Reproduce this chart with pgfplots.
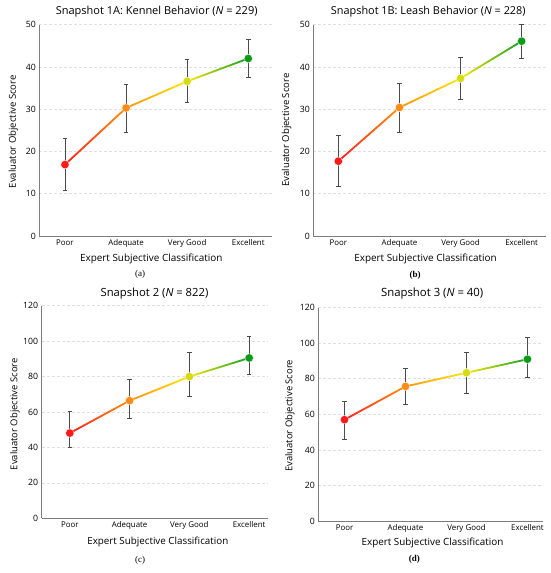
\documentclass[border=0pt]{standalone}
\usepackage{fontspec}
\setmainfont{Open Sans}
\newfontfamily\seriff{Liberation Serif}
\usepackage{graphicx}
\usepackage{pgfplots}
\usepackage{pgfplotstable}
\usetikzlibrary{decorations.markings}
\pgfplotsset{compat=1.18}

\definecolor{ebar}{RGB}{75,75,75}
\definecolor{axgray}{RGB}{125,125,125}

\pgfplotstableread{
x y ep em
0 16.9 6.2 6.2
1 30.3 5.6 5.8
2 36.6 5.1 5.1
3 42.0 4.4 4.4
}\tA
\pgfplotstableread{
x y ep em
0 17.7 6.0 6.0
1 30.4 5.8 5.8
2 37.3 5.0 5.0
3 46.1 4.0 4.0
}\tB
\pgfplotstableread{
x y ep em
0 48.1 12.0 8.1
1 66.4 12.1 10.0
2 80.0 13.7 11.3
3 90.5 12.0 9.4
}\tC
\pgfplotstableread{
x y ep em
0 57.0 10.3 11.2
1 75.7 10.3 10.3
2 83.4 11.6 11.4
3 91.0 12.4 10.4
}\tD

% line colour maps: stops at the arc-length fractions of the four categories
\pgfplotsset{
  colormap={traffA}{rgb255(0cm)=(255,20,20) rgb255(3.85cm)=(255,140,0) rgb255(6.97cm)=(255,232,0) rgb255(10cm)=(0,158,20)},
  colormap={traffB}{rgb255(0cm)=(255,20,20) rgb255(3.69cm)=(255,140,0) rgb255(6.76cm)=(255,232,0) rgb255(10cm)=(0,158,20)},
  colormap={traffC}{rgb255(0cm)=(255,20,20) rgb255(3.49cm)=(255,140,0) rgb255(6.79cm)=(255,232,0) rgb255(10cm)=(0,158,20)},
  colormap={traffD}{rgb255(0cm)=(255,20,20) rgb255(3.57cm)=(255,140,0) rgb255(6.79cm)=(255,232,0) rgb255(10cm)=(0,158,20)},
  colormap={marks}{rgb255=(255,25,25) rgb255=(255,140,20) rgb255=(214,220,16) rgb255=(12,155,24)},
  snap/.style={
    scale only axis, anchor=south west,
    axis x line*=bottom, axis y line*=left,
    axis line style={axgray, line width=0.9pt},
    tick style={draw=none},
    ymajorgrids, grid style={densely dashed, gray!25, line width=0.6pt},
    xtick={0,1,2,3}, xticklabels={Poor,Adequate,Very Good,Excellent},
    xticklabel style={font=\fontsize{7.9}{8}\selectfont},
    yticklabel style={font=\fontsize{8.7}{10}\selectfont},
    /pgf/number format/assume math mode=true,
    ymin=0, clip=false,
    point meta min=0, point meta max=3,
  },
}

\newcommand{\drawseries}[2]{%
  \addplot[only marks, mark=none, forget plot,
    error bars/.cd, y dir=both, y explicit,
    error bar style={ebar, line width=0.9pt},
    error mark options={ebar, rotate=90, mark size=2.3pt, line width=0.9pt}]
    table[x=x, y=y, y error plus=ep, y error minus=em]{#1};
  \addplot[draw=none, mark=none, forget plot, colormap name=#2,
    decoration={markings, mark=between positions 0 and 1 step 0.4pt with {%
      \pgfmathtruncatemacro\cpos{1000*(\pgfkeysvalueof{/pgf/decoration/mark info/distance from start}/\pgfdecoratedpathlength)}%
      \pgfplotscolormapdefinemappedcolor{\cpos}%
      \draw[mapped color, line width=1.6pt, line cap=butt] (-0.3pt,0pt) -- (0.3pt,0pt);}},
    postaction={decorate}]
    table[x=x, y=y]{#1};
  \addplot[scatter, only marks, mark=*, mark size=4.2pt, colormap name=marks, point meta=x,
    scatter/use mapped color={draw=white, fill=mapped color, line width=0.3pt}]
    table[x=x, y=y]{#1};
}

\newcommand{\fitw}[2]{\resizebox{#1}{!}{#2}}

\begin{document}
\begin{tikzpicture}
\useasboundingbox (0,0) rectangle (550pt,573pt);

\begin{axis}[snap, at={(39.3pt,337pt)}, width=232.8pt, height=211.3pt,
  xmin=-0.42, xmax=3.39, ymax=50, ytick={0,10,20,30,40,50}]
\drawseries{\tA}{traffA}
\end{axis}

\begin{axis}[snap, at={(313.3pt,337pt)}, width=232.2pt, height=211.3pt,
  xmin=-0.41, xmax=3.39, ymax=50, ytick={0,10,20,30,40,50}]
\drawseries{\tB}{traffB}
\end{axis}

\begin{axis}[snap, at={(41.7pt,54.7pt)}, width=226.6pt, height=212.6pt,
  xmin=-0.47, xmax=3.32, ymax=120, ytick={0,20,40,60,80,100,120}]
\drawseries{\tC}{traffC}
\end{axis}

\begin{axis}[snap, at={(318.3pt,52pt)}, width=225pt, height=213.3pt,
  xmin=-0.43, xmax=3.26, ymax=120, ytick={0,20,40,60,80,100,120}]
\drawseries{\tD}{traffD}
\end{axis}

% titles
\node[inner sep=0pt] at (156.7pt,561.3pt) {\fitw{201.7pt}{Snapshot 1A: Kennel Behavior (\textit{N} = 229)}};
\node[inner sep=0pt] at (428.3pt,561.3pt) {\fitw{194.7pt}{Snapshot 1B: Leash Behavior (\textit{N} = 228)}};
\node[inner sep=0pt] at (154.5pt,279.7pt) {\fitw{107.7pt}{Snapshot 2 (\textit{N} = 822)}};
\node[inner sep=0pt] at (432.2pt,279pt) {\fitw{102.3pt}{Snapshot 3 (\textit{N} = 40)}};

% x labels
\node[inner sep=0pt] at (151.3pt,313.7pt) {\fitw{142.5pt}{Expert Subjective Classification}};
\node[inner sep=0pt] at (425.5pt,313.7pt) {\fitw{142.3pt}{Expert Subjective Classification}};
\node[inner sep=0pt] at (157.8pt,31.3pt) {\fitw{141pt}{Expert Subjective Classification}};
\node[inner sep=0pt] at (432.5pt,30.3pt) {\fitw{141.7pt}{Expert Subjective Classification}};

% y labels
\node[inner sep=0pt, rotate=90] at (13.3pt,441.3pt) {\fitw{113pt}{Evaluator Objective Score}};
\node[inner sep=0pt, rotate=90] at (286.7pt,443pt) {\fitw{113pt}{Evaluator Objective Score}};
\node[inner sep=0pt, rotate=90] at (15pt,158.8pt) {\fitw{111.7pt}{Evaluator Objective Score}};
\node[inner sep=0pt, rotate=90] at (290pt,157.2pt) {\fitw{111.7pt}{Evaluator Objective Score}};

% panel letters
\node[font=\seriff\fontsize{9}{10}\selectfont] at (140pt,299pt) {(a)};
\node[font=\seriff\bfseries\fontsize{9}{10}\selectfont] at (415pt,298pt) {(b)};
\node[font=\seriff\fontsize{9}{10}\selectfont] at (140pt,13pt) {(c)};
\node[font=\seriff\bfseries\fontsize{9}{10}\selectfont] at (414.3pt,14pt) {(d)};
\end{tikzpicture}
\end{document}
